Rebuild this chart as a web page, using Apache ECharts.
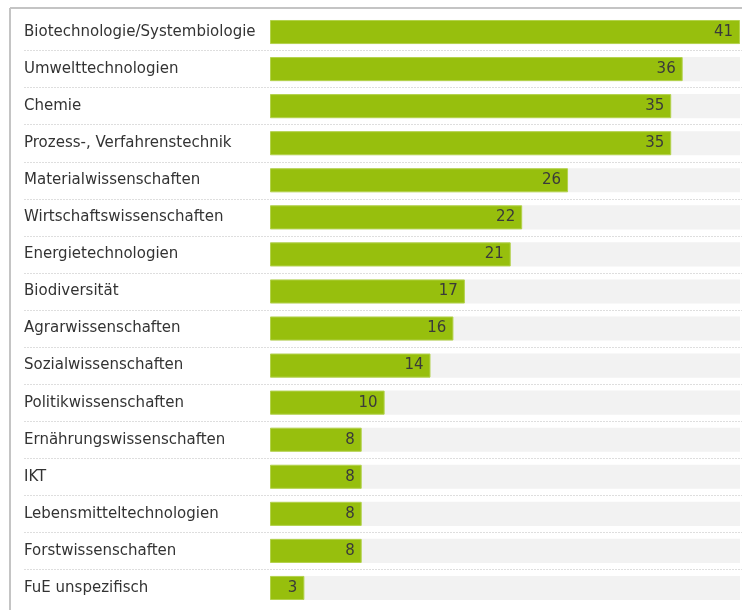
<!DOCTYPE html>
<html><head><meta charset="utf-8">
<script src="https://cdn.jsdelivr.net/npm/echarts@6/dist/echarts.min.js"></script>
<style>html,body{margin:0;padding:0;background:#fff}#c{width:742px;height:610px}</style>
</head><body><div id="c"></div>
<script>
const categories = ["Biotechnologie/Systembiologie","Umwelttechnologien","Chemie","Prozess-, Verfahrenstechnik","Materialwissenschaften","Wirtschaftswissenschaften","Energietechnologien","Biodiversität","Agrarwissenschaften","Sozialwissenschaften","Politikwissenschaften","Ernährungswissenschaften","IKT","Lebensmitteltechnologien","Forstwissenschaften","FuE unspezifisch"];
const values = [41,36,35,35,26,22,21,17,16,14,10,8,8,8,8,3];
const maxValue = 41;

const chart = echarts.init(document.getElementById('c'), null, {renderer:'canvas'});
const font = 'DejaVu Sans, Verdana, sans-serif';
chart.setOption({
  animation:false,
  grid:[
    {left:270,right:2,top:13.5,bottom:3.5},
    {left:24,right:0,top:13.5,bottom:3.5}
  ],
  xAxis:[
    {gridIndex:0,type:'value',min:0,max:maxValue,show:false},
    {gridIndex:1,type:'value',min:0,max:1,show:false}
  ],
  yAxis:[
    {gridIndex:0,type:'category',data:categories,inverse:true,
     axisLine:{show:false},axisTick:{show:false},splitLine:{show:false},
     axisLabel:{align:'left',margin:246,color:'#333',fontSize:15,fontFamily:font}},
    {gridIndex:1,type:'category',data:categories,inverse:true,
     axisLine:{show:false},axisTick:{show:false},axisLabel:{show:false},
     splitLine:{show:true,showMinLine:false,showMaxLine:false,lineStyle:{color:'#dedede',type:[2,1],width:1}}}
  ],
  series:[{
    type:'bar',xAxisIndex:0,yAxisIndex:0,data:values,
    barCategoryGap:'35%',
    showBackground:true,backgroundStyle:{color:'#f2f2f2'},
    itemStyle:{color:'#97bf0d',borderColor:'#b3d24c',borderWidth:1},
    label:{show:true,position:'insideRight',distance:7,color:'#3a3a3a',fontSize:15,fontFamily:font}
  }],
  graphic:[
    {type:'line',shape:{x1:10,y1:8,x2:742,y2:8},style:{stroke:'#c4c4c4',lineWidth:2},z:10},
    {type:'line',shape:{x1:10,y1:8,x2:10,y2:610},style:{stroke:'#c4c4c4',lineWidth:2},z:10}
  ]
});
</script></body></html>
